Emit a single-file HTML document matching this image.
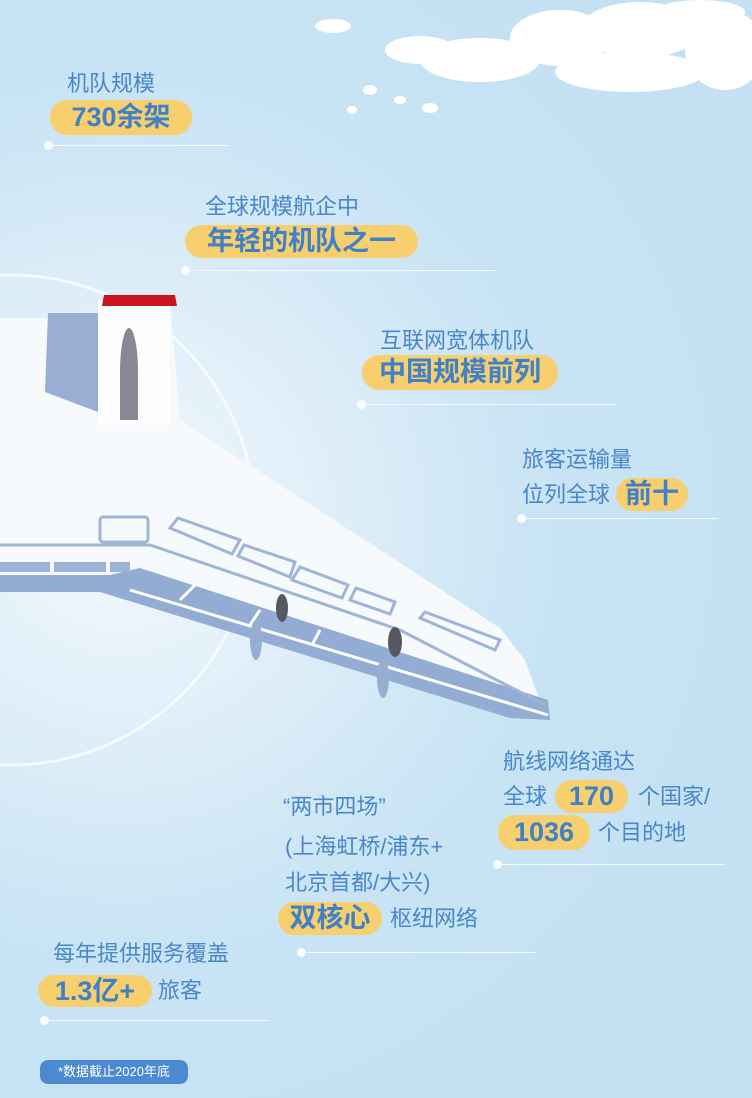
<!DOCTYPE html>
<html><head><meta charset="utf-8"><style>
*{margin:0;padding:0;box-sizing:border-box}
body{width:752px;height:1098px;overflow:hidden;position:relative;font-family:"Liberation Sans","Noto Sans CJK SC",sans-serif;
background:radial-gradient(circle at 120px 520px,#f4f9fd 0,#e0eff9 200px,#c9e4f4 420px,#c3e1f3 700px);}
.t{position:absolute;color:#4a87c9;font-size:22px;line-height:26px;white-space:nowrap}
.p{position:absolute;background:#f8cf6f;border-radius:17px;color:#3f80c6;font-weight:bold;font-size:27px;text-align:center;white-space:nowrap}
.l{position:absolute;height:1px;background:#f4f9fd}
.d{position:absolute;width:9px;height:9px;border-radius:50%;background:#fafcff}
svg{position:absolute;left:0;top:0}
</style></head><body>
<svg width="752" height="1098">
<circle cx="10" cy="520" r="245" fill="none" stroke="#fafdff" stroke-width="3" opacity=".8"/>
<g fill="#fff">
<ellipse cx="480" cy="60" rx="60" ry="22"/><ellipse cx="560" cy="38" rx="50" ry="28"/><ellipse cx="640" cy="30" rx="60" ry="28"/>
<ellipse cx="725" cy="50" rx="40" ry="40"/><ellipse cx="630" cy="72" rx="75" ry="20"/><ellipse cx="420" cy="50" rx="35" ry="14"/>
<ellipse cx="333" cy="26" rx="18" ry="7"/><ellipse cx="370" cy="90" rx="7" ry="5"/><ellipse cx="352" cy="110" rx="5" ry="4"/>
<ellipse cx="400" cy="100" rx="6" ry="4"/><ellipse cx="430" cy="108" rx="8" ry="5"/><ellipse cx="700" cy="12" rx="45" ry="12"/>
</g>
<polygon points="0,318 100,318 170,300 180,420 500,628 525,660 545,715 520,712 150,575 0,575" fill="#f7fafd"/>
<polygon points="48,313 98,313 98,412 45,392" fill="#98aed3"/>
<rect x="98" y="300" width="72" height="125" fill="#fdfdfe"/>
<polygon points="102,306 104,295 175,295 177,306" fill="#c9141f"/>
<ellipse cx="129" cy="372" rx="9" ry="44" fill="#868a90"/>
<rect x="120" y="372" width="18" height="48" fill="#868a90"/>
<polygon points="0,575 110,575 140,568 548,700 550,720 510,718 100,592 0,592" fill="#93acd3"/>
<rect x="0" y="562" width="50" height="10" fill="#9bb3d6"/><rect x="54" y="562" width="52" height="10" fill="#9bb3d6"/><rect x="110" y="562" width="20" height="10" fill="#9bb3d6"/>
<g fill="none" stroke="#9fb4d6" stroke-width="3">
<rect x="100" y="517" width="48" height="25" rx="3"/>
<polyline points="0,545 150,545 400,630 545,705"/>
<polygon points="170,528 178,518 240,540 232,554"/>
<polygon points="238,556 244,545 295,562 290,577"/>
<polygon points="292,580 300,567 348,585 342,598"/>
<polygon points="350,600 356,588 395,602 390,614"/>
<polygon points="420,618 425,612 500,640 495,650"/>
</g>
<g stroke="#fff" stroke-width="3">
<line x1="130" y1="590" x2="548" y2="715"/><line x1="195" y1="585" x2="180" y2="600"/><line x1="260" y1="610" x2="250" y2="625"/><line x1="320" y1="630" x2="312" y2="645"/>
</g>
<ellipse cx="282" cy="608" rx="6" ry="14" fill="#55585e"/>
<ellipse cx="395" cy="642" rx="7" ry="15" fill="#55585e"/>
<ellipse cx="256" cy="640" rx="6" ry="20" fill="#97aed3"/>
<ellipse cx="383" cy="678" rx="6" ry="20" fill="#97aed3"/>
</svg>

<div class="t" style="left:67px;top:71px">机队规模</div>
<div class="p" style="left:50px;top:100px;width:142px;height:35px;line-height:35px">730余架</div>
<div class="d" style="left:44px;top:141px"></div><div class="l" style="left:50px;top:145px;width:178px"></div>

<div class="t" style="left:205px;top:194px">全球规模航企中</div>
<div class="p" style="left:185px;top:225px;width:233px;height:33px;line-height:33px">年轻的机队之一</div>
<div class="d" style="left:181px;top:266px"></div><div class="l" style="left:186px;top:270px;width:309px"></div>

<div class="t" style="left:380px;top:328px">互联网宽体机队</div>
<div class="p" style="left:362px;top:355px;width:196px;height:35px;line-height:35px">中国规模前列</div>
<div class="d" style="left:357px;top:400px"></div><div class="l" style="left:362px;top:404px;width:254px"></div>

<div class="t" style="left:522px;top:447px">旅客运输量</div>
<div class="t" style="left:522px;top:482px">位列全球</div>
<div class="p" style="left:616px;top:478px;width:72px;height:33px;line-height:33px">前十</div>
<div class="d" style="left:517px;top:514px"></div><div class="l" style="left:522px;top:518px;width:196px"></div>

<div class="t" style="left:503px;top:749px">航线网络通达</div>
<div class="t" style="left:503px;top:784px">全球</div>
<div class="p" style="left:555px;top:780px;width:73px;height:33px;line-height:33px">170</div>
<div class="t" style="left:638px;top:784px">个国家/</div>
<div class="p" style="left:498px;top:815px;width:92px;height:35px;line-height:35px">1036</div>
<div class="t" style="left:598px;top:820px">个目的地</div>
<div class="d" style="left:493px;top:860px"></div><div class="l" style="left:498px;top:864px;width:227px"></div>

<div class="t" style="left:283px;top:794px">“两市四场”</div>
<div class="t" style="left:285px;top:834px">(上海虹桥/浦东+</div>
<div class="t" style="left:285px;top:870px">北京首都/大兴)</div>
<div class="p" style="left:278px;top:902px;width:104px;height:33px;line-height:33px">双核心</div>
<div class="t" style="left:390px;top:906px">枢纽网络</div>
<div class="d" style="left:297px;top:948px"></div><div class="l" style="left:302px;top:952px;width:233px"></div>

<div class="t" style="left:53px;top:941px">每年提供服务覆盖</div>
<div class="p" style="left:38px;top:975px;width:114px;height:32px;line-height:32px">1.3亿+</div>
<div class="t" style="left:158px;top:978px">旅客</div>
<div class="d" style="left:40px;top:1016px"></div><div class="l" style="left:45px;top:1020px;width:225px"></div>

<div style="position:absolute;left:40px;top:1060px;width:148px;height:24px;border-radius:8px;background:#4b8ad0;color:#fff;font-size:13px;line-height:24px;text-align:center">*数据截止2020年底</div>
</body></html>
